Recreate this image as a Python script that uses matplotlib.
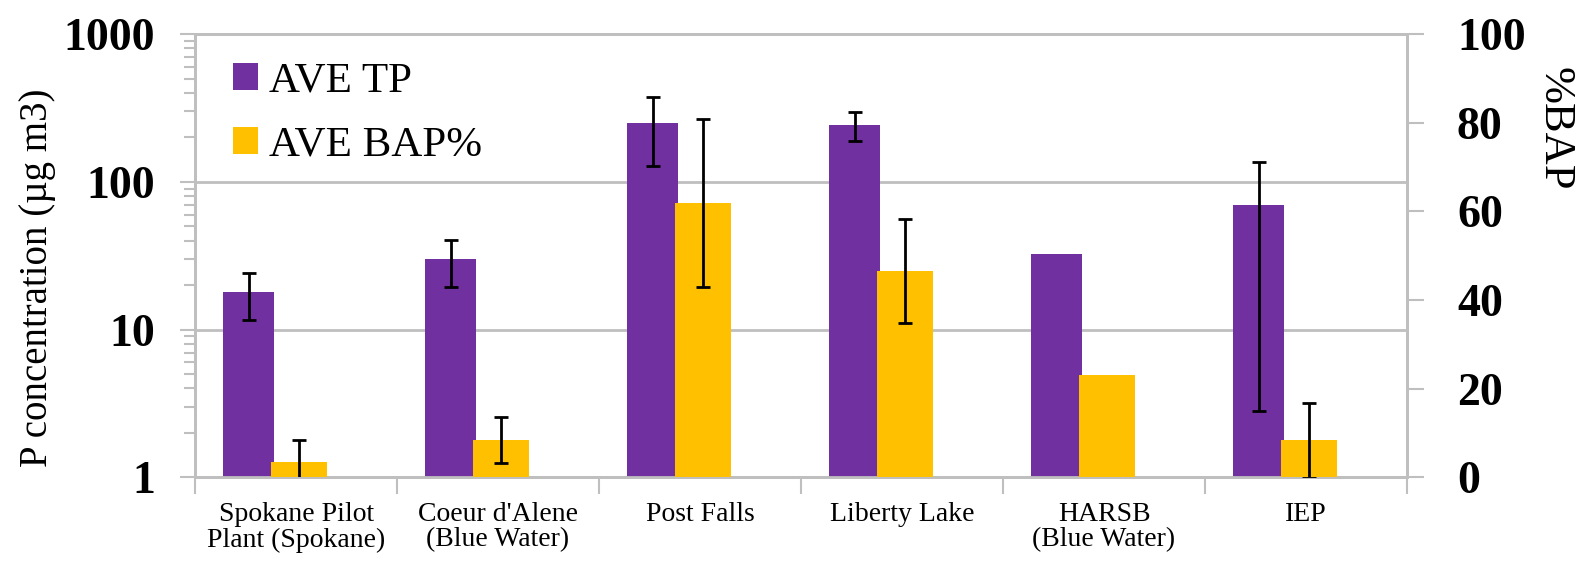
import numpy as np
import matplotlib.pyplot as plt

plt.rcParams['font.family'] = ['Liberation Serif', 'DejaVu Serif']

# 数据
sites = ['Spokane Pilot\nPlant (Spokane)', "Coeur d'Alene\n(Blue Water)",
         'Post Falls', 'Liberty Lake', 'HARSB\n(Blue Water)', 'IEP']
ave_tp = [17.9, 30.0, 250.0, 243.0, 32.4, 69.6]
tp_err = [6.2, 10.6, 122.0, 54.0, 0.0, 66.8]
ave_bap = [3.6, 8.5, 61.9, 46.5, 23.1, 8.4]
bap_err = [4.9, 5.2, 18.9, 11.7, 0.0, 8.5]
tp_ticks = [1, 10, 100, 1000]
tp_ticklabels = ['1', '10', '100', '1000']
bap_ticks = [0, 20, 40, 60, 80, 100]

PURPLE = '#7030A0'
YELLOW = '#FFC000'
GRAY = '#BFBFBF'

fig = plt.figure(figsize=(15.77, 5.64), dpi=100)
ax1 = fig.add_axes([0.1237, 0.1534, 0.7685, 0.7863])
ax2 = ax1.twinx()

x = np.arange(len(sites))
tp = np.array(ave_tp)
tpe = np.array(tp_err)
bap = np.array(ave_bap)
bape = np.array(bap_err)

# 左轴：TP（对数）
ax1.set_yscale('log')
b1 = ax1.bar(x - 0.235, tp, width=0.25, color=PURPLE, zorder=3, label='AVE TP')
m = tpe > 0
ax1.errorbar(x[m] - 0.235, tp[m], yerr=tpe[m], fmt='none', ecolor='black',
             elinewidth=2, capsize=5, capthick=2, zorder=4)
ax1.set_ylim(1, 1000)
ax1.set_xlim(-0.5, len(sites) - 0.5)
ax1.set_yticks(tp_ticks)
ax1.set_yticklabels(tp_ticklabels, fontweight='bold')
ax1.yaxis.grid(True, which='major', color=GRAY, lw=2)
ax1.set_axisbelow(True)
ax1.tick_params(axis='y', which='major', direction='out', length=11, width=1.5,
                color=GRAY, labelsize=33, pad=18)
ax1.tick_params(axis='y', which='minor', direction='out', length=8, width=1.5, color=GRAY)
ax1.set_ylabel('P concentration (µg m3)', fontsize=28, va='center')
ax1.yaxis.set_label_coords(-0.13, 0.45)

# 分类轴
ax1.set_xticks(np.arange(len(sites) + 1) - 0.5)
ax1.set_xticklabels([])
ax1.set_xticks(x, minor=True)
ax1.set_xticklabels(sites, minor=True, fontsize=20, linespacing=1.0)
ax1.tick_params(axis='x', which='major', direction='out', length=12, width=1.5, color=GRAY)
ax1.tick_params(axis='x', which='minor', length=0, pad=18)

# 右轴：BAP%
b2 = ax2.bar(x + 0.015, bap, width=0.28, color=YELLOW, zorder=3, label='AVE BAP%')
m = bape > 0
ax2.errorbar(x[m] + 0.015, bap[m], yerr=bape[m], fmt='none', ecolor='black',
             elinewidth=2, capsize=5, capthick=2, zorder=4)
ax2.set_ylim(0, 100)
ax2.set_yticks(bap_ticks)
ax2.set_yticklabels([str(v) for v in bap_ticks], fontweight='bold')
ax2.tick_params(axis='y', direction='out', length=12, width=1.5, color=GRAY,
                labelsize=33, pad=24)
ax2.set_ylabel('%BAP', rotation=270, fontsize=32, va='center')
ax2.yaxis.set_label_coords(1.122, 0.786)

for ax in (ax1, ax2):
    for s in ax.spines.values():
        s.set_color(GRAY)
        s.set_linewidth(2)

ax2.legend([b1, b2], ['AVE TP', 'AVE BAP%'], loc='upper left',
           bbox_to_anchor=(0.031, 0.937), frameon=False, fontsize=31,
           handlelength=0.6, handleheight=0.6, handletextpad=0.25,
           labelspacing=0.6, borderpad=0, borderaxespad=0)

fig.savefig('out.png', dpi=100)
